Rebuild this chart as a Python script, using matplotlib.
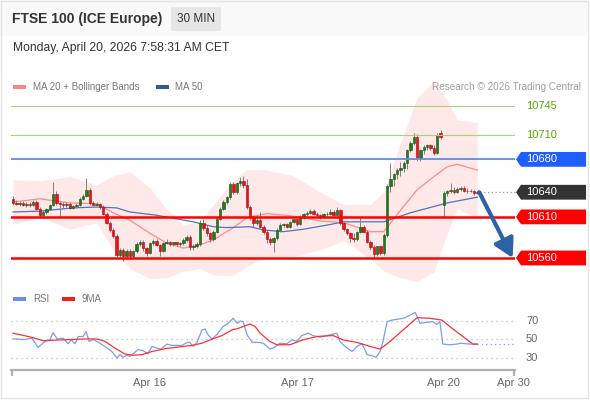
import matplotlib
matplotlib.use('Agg')
import matplotlib.pyplot as plt
import matplotlib.patches as mpatches
import numpy as np

plt.rcParams['font.family'] = ['Liberation Sans', 'DejaVu Sans']

# 30 min candles (Apr 15 -> Apr 20 morning)
opens = [10632, 10627, 10626, 10627, 10625, 10626, 10624, 10628, 10620, 10612,
         10616, 10620, 10625, 10638, 10627, 10626, 10624, 10626, 10621, 10623,
         10625, 10632, 10636, 10643, 10627, 10625, 10626, 10622, 10614, 10603,
         10594, 10587, 10564, 10570, 10562, 10569, 10563, 10568, 10577, 10580,
         10572, 10566, 10578, 10581, 10576, 10569, 10578, 10580, 10577, 10579,
         10577, 10578, 10582, 10585, 10573, 10575, 10577, 10603, 10596, 10590,
         10583, 10592, 10608, 10620, 10628, 10634, 10650, 10640, 10651, 10654,
         10649, 10622, 10610, 10602, 10606, 10598, 10592, 10583, 10580, 10584,
         10594, 10600, 10601, 10598, 10604, 10607, 10601, 10610, 10613, 10615,
         10617, 10614, 10612, 10610, 10613, 10614, 10616, 10612, 10618, 10602,
         10595, 10590, 10584, 10583, 10592, 10598, 10592, 10580, 10573, 10565,
         10574, 10566, 10588, 10647, 10656, 10662, 10667, 10670, 10676, 10691,
         10700, 10707, 10682, 10691, 10695, 10697, 10694, 10688, 10712, 10625,
         10639, 10641, 10643, 10640, 10644, 10645, 10642, 10641, 10642, 10639]
highs = [10635, 10630, 10629, 10629, 10628, 10628, 10631, 10630, 10622, 10618,
         10621, 10626, 10652, 10641, 10629, 10628, 10628, 10628, 10625, 10627,
         10634, 10638, 10657, 10645, 10629, 10628, 10627, 10624, 10616, 10605,
         10596, 10589, 10572, 10572, 10571, 10571, 10570, 10579, 10582, 10582,
         10573, 10580, 10583, 10583, 10577, 10580, 10583, 10581, 10580, 10580,
         10580, 10584, 10588, 10588, 10577, 10579, 10606, 10607, 10600, 10592,
         10594, 10610, 10622, 10630, 10636, 10652, 10653, 10653, 10659, 10660,
         10656, 10624, 10612, 10612, 10616, 10600, 10594, 10585, 10586, 10596,
         10602, 10603, 10603, 10605, 10608, 10609, 10612, 10615, 10617, 10620,
         10620, 10616, 10614, 10615, 10616, 10620, 10618, 10622, 10620, 10604,
         10597, 10592, 10590, 10593, 10609, 10600, 10594, 10582, 10576, 10575,
         10576, 10590, 10650, 10675, 10664, 10669, 10677, 10678, 10693, 10702,
         10712, 10711, 10693, 10697, 10699, 10699, 10697, 10712, 10716, 10641,
         10643, 10651, 10646, 10646, 10647, 10647, 10645, 10644, 10643, 10642]
lows = [10624, 10624, 10623, 10623, 10622, 10622, 10623, 10618, 10609, 10609,
        10614, 10618, 10623, 10624, 10610, 10621, 10622, 10619, 10619, 10621,
        10623, 10630, 10634, 10625, 10624, 10623, 10620, 10612, 10601, 10592,
        10584, 10561, 10561, 10556, 10560, 10560, 10559, 10566, 10574, 10569,
        10563, 10565, 10576, 10574, 10562, 10567, 10577, 10575, 10575, 10575,
        10575, 10576, 10580, 10570, 10570, 10572, 10575, 10594, 10587, 10579,
        10581, 10590, 10606, 10618, 10626, 10632, 10638, 10638, 10648, 10645,
        10620, 10606, 10598, 10600, 10596, 10589, 10578, 10576, 10567, 10582,
        10592, 10598, 10596, 10597, 10602, 10599, 10600, 10608, 10611, 10613,
        10612, 10610, 10608, 10609, 10611, 10612, 10610, 10611, 10600, 10593,
        10588, 10580, 10579, 10581, 10590, 10590, 10578, 10570, 10559, 10563,
        10564, 10564, 10586, 10640, 10648, 10656, 10660, 10665, 10668, 10689,
        10697, 10678, 10678, 10687, 10692, 10692, 10685, 10686, 10705, 10610,
        10636, 10639, 10638, 10639, 10641, 10640, 10639, 10640, 10637, 10638]
closes = [10627, 10626, 10627, 10625, 10626, 10624, 10628, 10620, 10612, 10616,
          10620, 10625, 10638, 10627, 10626, 10624, 10626, 10621, 10623, 10625,
          10632, 10636, 10643, 10627, 10625, 10626, 10622, 10614, 10603, 10594,
          10587, 10564, 10570, 10562, 10569, 10563, 10568, 10577, 10580, 10572,
          10566, 10578, 10581, 10576, 10569, 10578, 10580, 10577, 10579, 10577,
          10578, 10582, 10585, 10573, 10575, 10577, 10603, 10596, 10590, 10583,
          10592, 10608, 10620, 10628, 10634, 10650, 10640, 10651, 10654, 10649,
          10622, 10610, 10602, 10606, 10598, 10592, 10583, 10580, 10584, 10594,
          10600, 10601, 10598, 10604, 10607, 10601, 10610, 10613, 10615, 10617,
          10614, 10612, 10610, 10613, 10614, 10616, 10612, 10618, 10602, 10595,
          10590, 10584, 10583, 10592, 10598, 10592, 10580, 10573, 10565, 10574,
          10566, 10588, 10647, 10656, 10662, 10667, 10670, 10676, 10691, 10700,
          10707, 10682, 10691, 10695, 10697, 10694, 10688, 10710, 10707, 10639,
          10641, 10643, 10640, 10644, 10645, 10642, 10641, 10642, 10639, 10640]

# MA 20 + Bollinger bands (bar index, value)
ma_idx = [0, 8, 17, 25, 30, 35, 41, 46, 51, 56, 60, 66, 70, 76, 84, 92, 99,
          107, 111, 116, 121, 126, 130, 133, 139]
ma20 = [10628, 10632, 10627, 10626, 10615, 10606, 10590, 10578, 10572, 10576,
        10582, 10597, 10609, 10614, 10611, 10605, 10603, 10592, 10592, 10618,
        10643, 10659, 10671, 10674, 10667]
bb_upper = [10655, 10654, 10659, 10649, 10660, 10665, 10645, 10620, 10600, 10605,
            10625, 10655, 10668, 10667, 10660, 10640, 10625, 10625, 10640, 10700,
            10755, 10775, 10752, 10728, 10725]
bb_lower = [10601, 10610, 10595, 10603, 10570, 10547, 10535, 10536, 10544, 10547,
            10539, 10539, 10550, 10561, 10562, 10570, 10581, 10559, 10544, 10536,
            10531, 10543, 10590, 10620, 10609]
ma50_idx = [0, 8, 18, 25, 31, 35, 43, 54, 60, 64, 71, 75, 81, 87, 94, 99, 111,
            119, 130, 139]
ma50 = [10616, 10617, 10621, 10622, 10621, 10616, 10612, 10604, 10598, 10597,
        10598, 10594, 10592, 10595, 10600, 10604, 10604, 10615, 10627, 10634]

# RSI and its 9 period MA
rsi_idx = [0, 3.6, 5.7, 7.5, 9.6, 11.1, 12, 13.2, 15, 16.5, 17.4, 18.6, 19.5, 21,
           21.9, 22.8, 24, 26, 27.5, 29.6, 31.1, 32, 32.9, 34.1, 35, 35.9, 37.4,
           38.9, 40.4, 41.6, 43.1, 44.3, 46.1, 47.6, 49.1, 50.6, 52.1, 53, 53.9,
           55.1, 56.6, 57.5, 58.4, 59.6, 61.1, 62.9, 64.4, 65.9, 67.1, 68, 68.9,
           70.1, 71.6, 73.1, 74.9, 77, 78.4, 79.9, 82, 83.5, 85, 86.5, 88.3, 89.8,
           91.9, 94, 97, 97.9, 99.4, 101.5, 103, 104.5, 106, 107.5, 108.7, 109.9,
           110.8, 112, 113.5, 115.3, 117.4, 118.9, 120.4, 121, 121.9, 124, 125.7,
           126.9, 127.8, 128.7, 130.8, 132.9, 133.8, 136.8, 139]
rsi = [50.7, 50, 51.4, 41.4, 48, 50, 57.5, 50.7, 51.4, 45.4, 49.6, 45.4, 53.2, 53.2,
       58.6, 47.9, 50, 46, 42.5, 37, 30, 33.6, 30.7, 33, 31.8, 34.3, 39,
       38, 34.6, 42.5, 40.7, 39.6, 45, 43.6, 43.6, 43.6, 46.8, 46.8, 42.5,
       47, 60.4, 61.4, 55, 50.4, 55.7, 64, 67.5, 72.9, 67.5, 70, 69.3,
       55, 47, 47, 46, 39.6, 41.8, 46, 45.4, 49.6, 47.9, 54.3, 56.8, 54.3,
       52.5, 54.3, 56.8, 47.9, 42.5, 37, 42.5, 45.4, 33.6, 32.5, 30.7, 37,
       47.9, 69.3, 71, 72, 73.6, 76.4, 79.3, 74.6, 67.5, 68.6, 69.3,
       66.4, 69.3, 45, 44.3, 45, 46, 45, 45]
rsi_ma_idx = [0, 3.6, 6.6, 9, 12.6, 17.7, 22.5, 25.4, 27.5, 30.5, 33.5, 35.9, 38.6,
              41.6, 45.5, 49.4, 53.6, 56.6, 59.6, 62.6, 65.6, 67.4, 71, 72.5, 74,
              76.9, 79, 82.9, 86.8, 91, 95.8, 98.8, 103, 106.9, 109.9, 112.9,
              116.8, 121, 124.9, 128.4, 130.8, 134.7, 137.7, 139]
rsi_ma = [56.8, 54, 51.4, 48.6, 49.3, 50, 50.7, 50.4, 48, 40.7, 34.3, 32.9, 33.6,
          37, 40, 41.8, 43.6, 46, 50.4, 54.3, 60.4, 62, 66.8, 64, 56.8,
          47.9, 44.3, 44.3, 49.6, 53.2, 54.3, 49.6, 46.8, 42.5, 39.6, 47.9,
          60.4, 73.6, 72.9, 71, 64, 53.2, 45, 45]

resistances = [10745, 10710]
pivot = 10680
last_price = 10640
supports = [10610, 10560]
target = 10560
rsi_levels = [70, 50, 30]
tick_idx = [41, 85.3, 129, 149.7]
tick_labels = ['Apr 16', 'Apr 17', 'Apr 20', 'Apr 30']

W, H = 590, 400
fig = plt.figure(figsize=(W / 100, H / 100), dpi=100)


def box(left, top, right, bottom):
    # pixel box (from top-left) -> figure fraction rect
    return [left / W, 1 - bottom / H, (right - left) / W, (bottom - top) / H]


def rect(left, top, right, bottom, **kw):
    r = mpatches.Rectangle((left / W, 1 - bottom / H), (right - left) / W,
                           (bottom - top) / H, transform=fig.transFigure, **kw)
    fig.patches.append(r)


# frame + header
rect(0, 0, 587, 36, color='#f9f9f9', lw=0)
rect(0.5, 0.5, 587.5, 397.5, fill=False, ec='#e4e4e4', lw=1)
fig.text(12 / W, 1 - 18.5 / H, 'FTSE 100 (ICE Europe)', fontsize=10,
         fontweight='bold', color='#333333', va='center')
rect(171, 7, 221, 31, color='#e6e6e6', lw=0)
fig.text(196 / W, 1 - 19 / H, '30 MIN', fontsize=8.5, color='#333333',
         ha='center', va='center')
fig.text(13 / W, 1 - 48 / H, 'Monday, April 20, 2026 7:58:31 AM CET',
         fontsize=8.7, color='#333333', va='center')

# legends
rect(13, 84.5, 26, 88.5, color='#ff8585', lw=0)
fig.text(33 / W, 1 - 86.5 / H, 'MA 20 + Bollinger Bands', fontsize=7,
         color='#777777', va='center')
rect(156, 84.5, 169, 88.5, color='#2f5b9c', lw=0)
fig.text(175 / W, 1 - 86.5 / H, 'MA 50', fontsize=7, color='#777777',
         va='center')
fig.text(581 / W, 1 - 86.5 / H, 'Research \u00a9 2026 Trading Central',
         fontsize=7.2, color='#a0a0a0', va='center', ha='right')
rect(13, 296.5, 26, 300.5, color='#6a8fe8', lw=0)
fig.text(33 / W, 1 - 298.5 / H, 'RSI', fontsize=7, color='#777777', va='center')
rect(62, 296.5, 75, 300.5, color='#ff1a1a', lw=0)
fig.text(82 / W, 1 - 298.5 / H, '9MA', fontsize=7, color='#777777', va='center')

xmin, xmax = -0.6, 150.3

# ---- price panel
ax = fig.add_axes(box(11, 75, 515, 285))
ax.set_xlim(xmin, xmax)
ax.set_ylim(10527.1, 10782.7)
ax.axis('off')

ax.fill_between(ma_idx, bb_lower, bb_upper, color='#ffe8e8', lw=0, zorder=0)
ax.plot(ma_idx, ma20, color='#ff8a8a', lw=0.9, zorder=1)
ax.plot(ma50_idx, ma50, color='#4f74b8', lw=0.9, zorder=1)

o = np.array(opens)
c = np.array(closes)
idx = np.arange(len(c))
up = c >= o
body_col = np.where(up, '#1f7a1f', '#e8141c')
edge_col = np.where(up, '#145214', '#b00000')
ax.vlines(idx, lows, highs, color='#808080', lw=0.7, zorder=3)
ax.bar(idx, np.maximum(np.abs(c - o), 1.0), bottom=np.minimum(o, c), width=0.72,
       color=body_col, edgecolor=edge_col, lw=0.4, zorder=4)

ytr = ax.get_yaxis_transform()
for r in resistances:
    ax.axhline(r, color='#a6d27c', lw=0.8, zorder=5)
    ax.text(1.0218, r, str(r), transform=ytr, color='#5aa800', fontsize=8,
            va='center', ha='left')
ax.axhline(pivot, color='#5b8cf5', lw=1.3, zorder=5)
for s in supports:
    ax.axhline(s, color='#ff0000', lw=1.8, zorder=5)
ax.plot([idx[-1] + 0.7, xmax], [last_price, last_price], color='#9a9a9a',
        ls=(0, (1, 2)), lw=0.9, clip_on=False, zorder=5)


def tag(y, color):
    dy = 9.0
    pts = [(1.002, y), (1.0119, y + dy), (1.141, y + dy), (1.141, y - dy),
           (1.0119, y - dy)]
    ax.add_patch(mpatches.Polygon(pts, closed=True, transform=ytr, color=color,
                                  lw=0, clip_on=False))
    ax.text(1.0218, y, str(y), transform=ytr, color='white', fontsize=8,
            va='center', ha='left')


tag(pivot, '#1f5fff')
tag(last_price, '#333333')
for s in supports:
    tag(s, '#ff0000')

ax.annotate('', xy=(149.6, target), xytext=(idx[-1] + 0.6, last_price),
            arrowprops=dict(arrowstyle='-|>,head_length=0.8,head_width=0.45',
                            color='#2e62a8', lw=3, mutation_scale=14,
                            shrinkA=0, shrinkB=0),
            annotation_clip=False, zorder=6)

# ---- RSI panel
ax2 = fig.add_axes(box(11, 305, 515, 370))
ax2.set_xlim(xmin, xmax)
ax2.set_ylim(17.0, 87.3)
for lv in rsi_levels:
    ax2.axhline(lv, color='#bdbdbd', ls=(0, (1, 3)), lw=0.9)
    ax2.text(1.0218, lv, str(lv), transform=ax2.get_yaxis_transform(),
             color='#666666', fontsize=8, va='center', ha='left')
ax2.plot(rsi_idx, rsi, color='#7b9cf2', lw=0.9)
ax2.plot(rsi_ma_idx, rsi_ma, color='#ff3030', lw=0.9)
ax2.plot([rsi_idx[-1], xmax], [rsi[-1], rsi[-1]], color='#7b9cf2',
         ls=(0, (1, 2.5)), lw=0.9)

for side in ['top', 'left', 'right']:
    ax2.spines[side].set_visible(False)
ax2.spines['bottom'].set_color('#b0b0b0')
ax2.spines['bottom'].set_linewidth(1.6)
ax2.set_yticks([])
ax2.set_xticks(tick_idx, tick_labels)
ax2.tick_params(axis='x', length=0, pad=6, labelsize=8, labelcolor='#666666')
ax2.set_xticks([xmin + 0.2, xmax - 0.2], minor=True)
ax2.tick_params(axis='x', which='minor', length=4, width=1.6, color='#b0b0b0')
ax2.patch.set_alpha(0)

fig.savefig('out.png', dpi=100)
